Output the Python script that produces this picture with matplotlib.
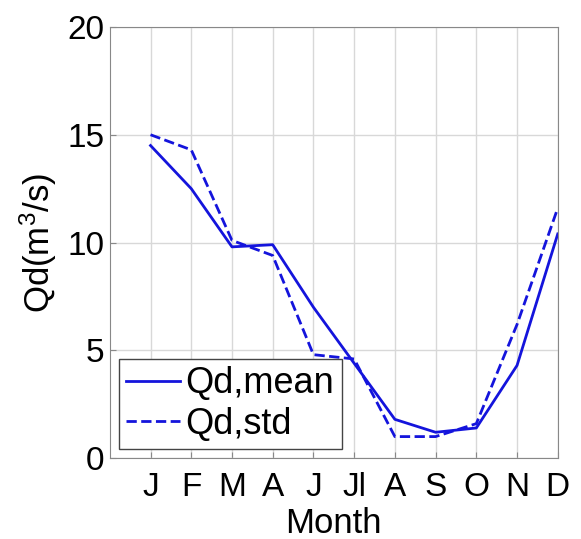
import matplotlib.pyplot as plt
import numpy as np

plt.rcParams['font.family'] = ['Liberation Sans', 'DejaVu Sans']
plt.rcParams['mathtext.fontset'] = 'custom'
plt.rcParams['mathtext.rm'] = 'Liberation Sans'
plt.rcParams['mathtext.it'] = 'Liberation Sans'

months = ['J', 'F', 'M', 'A', 'J', 'Jl', 'A', 'S', 'O', 'N', 'D']
month_pos = [1, 2, 3, 4, 5, 6, 7, 8, 9, 10, 11]
qd_mean = [14.5, 12.5, 9.8, 9.9, 7.0, 4.4, 1.8, 1.2, 1.4, 4.3, 10.4]
qd_std = [15.0, 14.3, 10.1, 9.4, 4.8, 4.6, 1.0, 1.0, 1.6, 6.2, 11.6]

fig = plt.figure(figsize=(5.81, 5.39), dpi=100)
ax = fig.add_axes([0.189, 0.150, 0.771, 0.800])

ax.plot(month_pos, qd_mean, '-', color='#1414dc', lw=2, label='Qd,mean')
ax.plot(month_pos, qd_std, '--', color='#1414dc', lw=2, label='Qd,std')

ax.set_xlim(0, 11)
ax.set_ylim(0, 20)
ax.set_xticks(month_pos)
ax.set_xticklabels(months)
ax.set_yticks([0, 5, 10, 15, 20])
ax.grid(True, color='#d8d8d8', lw=1)
ax.tick_params(direction='in', labelsize=24, length=4, color='#888888')
ax.tick_params(axis='x', pad=10)
ax.tick_params(axis='y', pad=4)
for s in ax.spines.values():
    s.set_color('#888888')

ax.set_xlabel('Month', fontsize=25, labelpad=3)
ax.set_ylabel('Qd(m$^3$/s)', fontsize=25, labelpad=6)

leg = ax.legend(loc='lower left', fontsize=26, handlelength=1.5, handletextpad=0.15,
                borderpad=0.2, labelspacing=0.15, fancybox=False, framealpha=1,
                borderaxespad=0.25)
leg.get_frame().set_edgecolor('#444444')

fig.savefig('out.png', dpi=100)
